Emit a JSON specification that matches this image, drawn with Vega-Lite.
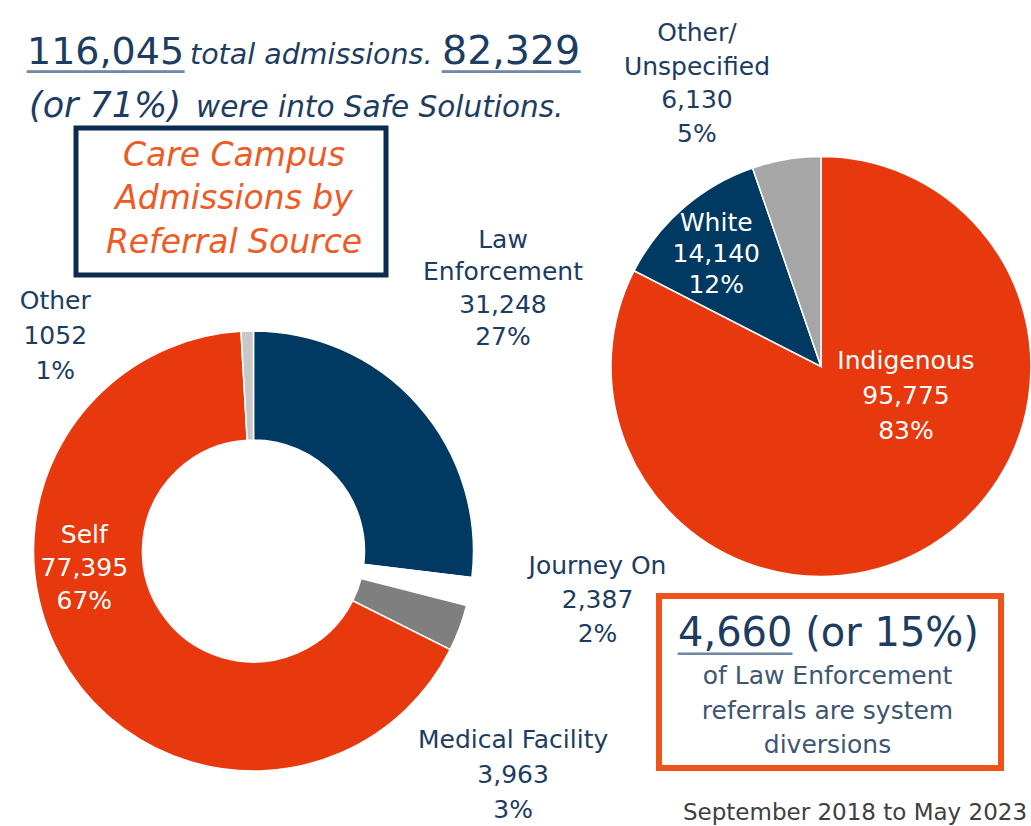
{
  "$schema": "https://vega.github.io/schema/vega-lite/v6.json",
  "background": "white",
  "padding": 0,
  "bounds": "flush",
  "align": "each",
  "spacing": 0,
  "columns": 3,
  "config": {"view": {"stroke": null}, "font": "DejaVu Sans", "text": {"font": "DejaVu Sans"}},
  "resolve": {"scale": {"color": "independent", "theta": "independent"}},
  "concat": [
    {
      "width": 75.5,
      "height": 127.5,
      "data": {"values": [{}]},
      "layer": [
        {"mark": {"type": "text", "align": "left", "baseline": "alphabetic", "fontSize": 39.3, "color": "#7089a8", "dx": -10.75, "dy": -0.25},
         "encoding": {"text": {"value": "________"}}},
        {"mark": {"type": "text", "align": "left", "baseline": "alphabetic", "fontSize": 38, "color": "#1d3c61", "dx": -10.75, "dy": -0.25},
         "encoding": {"text": {"value": "116,045"}}},
        {"mark": {"type": "text", "align": "left", "baseline": "alphabetic", "fontSize": 28.5, "fontStyle": "italic", "color": "#1d3c61", "dx": 152.25, "dy": -0.25},
         "encoding": {"text": {"value": "total admissions."}}},
        {"mark": {"type": "text", "align": "left", "baseline": "alphabetic", "fontSize": 39.5, "color": "#7089a8", "dx": 404.25, "dy": -0.25},
         "encoding": {"text": {"value": "_______"}}},
        {"mark": {"type": "text", "align": "left", "baseline": "alphabetic", "fontSize": 39.5, "color": "#1d3c61", "dx": 404.25, "dy": -0.25},
         "encoding": {"text": {"value": "82,329"}}},
        {"mark": {"type": "text", "align": "left", "baseline": "alphabetic", "fontSize": 35, "fontStyle": "italic", "color": "#1d3c61", "dx": -8.75, "dy": 53.25},
         "encoding": {"text": {"value": "(or 71%)"}}},
        {"mark": {"type": "text", "align": "left", "baseline": "alphabetic", "fontSize": 29.5, "fontStyle": "italic", "color": "#1d3c61", "dx": 158.25, "dy": 53.25},
         "encoding": {"text": {"value": "were into Safe Solutions."}}}
      ]
    },
    {"width": 582.5, "height": 127.5, "data": {"values": [{}]}, "mark": {"type": "text"}, "encoding": {"text": {"value": ""}}},
    {"width": 1, "height": 127.5, "data": {"values": [{}]}, "mark": {"type": "text"}, "encoding": {"text": {"value": ""}}},

    {"width": 1, "height": 1, "data": {"values": [{}]}, "mark": {"type": "text"}, "encoding": {"text": {"value": ""}}},
    {
      "width": 310,
      "height": 147,
      "view": {"stroke": "#0b2c4f", "strokeWidth": 5},
      "data": {"values": [{}]},
      "mark": {"type": "text", "align": "center", "baseline": "middle", "fontSize": 33, "fontStyle": "italic", "color": "#ee5a24", "lineHeight": 43.5, "dx": 3, "dy": -45.9},
      "encoding": {"text": {"value": ["Care Campus", "Admissions by", "Referral Source"]}}
    },
    {"width": 1, "height": 1, "data": {"values": [{}]}, "mark": {"type": "text"}, "encoding": {"text": {"value": ""}}},

    {"width": 1, "height": 230.5, "data": {"values": [{}]}, "mark": {"type": "text"}, "encoding": {"text": {"value": ""}}},
    {"width": 1, "height": 1, "data": {"values": [{}]}, "mark": {"type": "text"}, "encoding": {"text": {"value": ""}}},
    {
      "width": 324,
      "height": 183,
      "data": {"values": [
        {"group": "Indigenous", "count": 95775, "k": 1, "label": "Indigenous\n95,775\n83%"},
        {"group": "White", "count": 14140, "k": 2, "label": "White\n14,140\n12%"},
        {"group": "Other/Unspecified", "count": 6130, "k": 3, "label": "Other/\nUnspecified\n6,130\n5%"}
      ]},
      "encoding": {
        "theta": {"field": "count", "type": "quantitative", "stack": true},
        "order": {"field": "k", "type": "quantitative"},
        "detail": {"field": "group", "type": "nominal"}
      },
      "layer": [
        {"mark": {"type": "arc", "outerRadius": 210, "stroke": "white", "strokeWidth": 1.5},
         "encoding": {"color": {"field": "group", "type": "nominal", "legend": null,
           "scale": {"domain": ["Indigenous", "White", "Other/Unspecified"], "range": ["#e8380d", "#003a63", "#a6a6a6"]}}}},
        {"mark": {"type": "text", "radius": {"expr": "datum.group === 'Indigenous' ? 69 : 0"}, "dx": 49, "dy": -64, "align": "center", "baseline": "middle", "fontSize": 25, "lineHeight": 35, "lineBreak": "\n", "color": "#ffffff"},
         "encoding": {"text": {"condition": {"test": "datum.group === 'Indigenous'", "field": "label", "type": "nominal"}, "value": ""}}},
        {"mark": {"type": "text", "radius": {"expr": "datum.group === 'White' ? 153 : 0"}, "dx": -4.5, "dy": -27.6, "align": "center", "baseline": "middle", "fontSize": 25, "lineHeight": 31, "lineBreak": "\n", "color": "#ffffff"},
         "encoding": {"text": {"condition": {"test": "datum.group === 'White'", "field": "label", "type": "nominal"}, "value": ""}}},
        {"mark": {"type": "text", "radius": {"expr": "datum.group === 'Other/Unspecified' ? 300 : 0"}, "dx": -74.5, "dy": -37.6, "align": "center", "baseline": "middle", "fontSize": 25, "lineHeight": 33.7, "lineBreak": "\n", "color": "#1d3c61"},
         "encoding": {"text": {"condition": {"test": "datum.group === 'Other/Unspecified'", "field": "label", "type": "nominal"}, "value": ""}}}
      ]
    },

    {"width": 1, "height": 1, "data": {"values": [{}]}, "mark": {"type": "text"}, "encoding": {"text": {"value": ""}}},
    {
      "width": 355,
      "height": 90,
      "data": {"values": [
        {"source": "Law Enforcement", "count": 31248, "k": 1, "label": "Law\nEnforcement\n31,248\n27%"},
        {"source": "Journey On", "count": 2387, "k": 2, "label": "Journey On\n2,387\n2%"},
        {"source": "Medical Facility", "count": 3963, "k": 3, "label": "Medical Facility\n3,963\n3%"},
        {"source": "Self", "count": 77395, "k": 4, "label": "Self\n77,395\n67%"},
        {"source": "Other", "count": 1052, "k": 5, "label": "Other\n1052\n1%"}
      ]},
      "encoding": {
        "theta": {"field": "count", "type": "quantitative", "stack": true},
        "order": {"field": "k", "type": "quantitative"},
        "detail": {"field": "source", "type": "nominal"}
      },
      "layer": [
        {"mark": {"type": "arc", "innerRadius": 111, "outerRadius": 220, "stroke": "white", "strokeWidth": 1.5},
         "encoding": {"color": {"field": "source", "type": "nominal", "legend": null,
           "scale": {"domain": ["Law Enforcement", "Journey On", "Medical Facility", "Self", "Other"], "range": ["#003a63", "#ffffff", "#7f7f7f", "#e8380d", "#c8c8c8"]}}}},
        {"mark": {"type": "text", "radius": {"expr": "datum.source === 'Law Enforcement' ? 362 : 0"}, "dx": -21.5, "dy": -71, "align": "center", "baseline": "middle", "fontSize": 25, "lineHeight": 32.5, "lineBreak": "\n", "color": "#1d3c61"},
         "encoding": {"text": {"condition": {"test": "datum.source === 'Law Enforcement'", "field": "label", "type": "nominal"}, "value": ""}}},
        {"mark": {"type": "text", "radius": {"expr": "datum.source === 'Journey On' ? 347 : 0"}, "dx": 3, "dy": -49, "align": "center", "baseline": "middle", "fontSize": 25, "lineHeight": 34, "lineBreak": "\n", "color": "#1d3c61"},
         "encoding": {"text": {"condition": {"test": "datum.source === 'Journey On'", "field": "label", "type": "nominal"}, "value": ""}}},
        {"mark": {"type": "text", "radius": {"expr": "datum.source === 'Medical Facility' ? 322 : 0"}, "dx": -42, "dy": 76, "align": "center", "baseline": "middle", "fontSize": 25, "lineHeight": 35, "lineBreak": "\n", "color": "#1d3c61"},
         "encoding": {"text": {"condition": {"test": "datum.source === 'Medical Facility'", "field": "label", "type": "nominal"}, "value": ""}}},
        {"mark": {"type": "text", "radius": {"expr": "datum.source === 'Self' ? 151 : 0"}, "dx": -43, "dy": -99, "align": "center", "baseline": "middle", "fontSize": 25, "lineHeight": 33, "lineBreak": "\n", "color": "#ffffff"},
         "encoding": {"text": {"condition": {"test": "datum.source === 'Self'", "field": "label", "type": "nominal"}, "value": ""}}},
        {"mark": {"type": "text", "radius": {"expr": "datum.source === 'Other' ? 220 : 0"}, "dx": -192, "dy": -30, "align": "center", "baseline": "middle", "fontSize": 25, "lineHeight": 35, "lineBreak": "\n", "color": "#1d3c61"},
         "encoding": {"text": {"condition": {"test": "datum.source === 'Other'", "field": "label", "type": "nominal"}, "value": ""}}}
      ]
    },
    {"width": 1, "height": 1, "data": {"values": [{}]}, "mark": {"type": "text"}, "encoding": {"text": {"value": ""}}},

    {"width": 1, "height": 1, "data": {"values": [{}]}, "mark": {"type": "text"}, "encoding": {"text": {"value": ""}}},
    {"width": 1, "height": 1, "data": {"values": [{}]}, "mark": {"type": "text"}, "encoding": {"text": {"value": ""}}},
    {
      "width": 342,
      "height": 172,
      "view": {"stroke": "#ee5417", "strokeWidth": 6},
      "data": {"values": [{}]},
      "layer": [
        {"mark": {"type": "text", "align": "left", "baseline": "alphabetic", "fontSize": 38, "color": "#7089a8", "dx": -152, "dy": -36},
         "encoding": {"text": {"value": "______"}}},
        {"mark": {"type": "text", "align": "left", "baseline": "alphabetic", "fontSize": 40, "color": "#1d3c61", "dx": -152, "dy": -36},
         "encoding": {"text": {"value": "4,660 (or 15%)"}}},
        {"mark": {"type": "text", "align": "center", "baseline": "alphabetic", "fontSize": 25, "lineHeight": 34.5, "color": "#3e5672", "dx": -2.5, "dy": 2},
         "encoding": {"text": {"value": ["of Law Enforcement", "referrals are system", "diversions"]}}},
        {"mark": {"type": "text", "align": "center", "baseline": "alphabetic", "fontSize": 23, "color": "#404040", "dx": 25, "dy": 138},
         "encoding": {"text": {"value": "September 2018 to May 2023"}}}
      ]
    }
  ]
}
